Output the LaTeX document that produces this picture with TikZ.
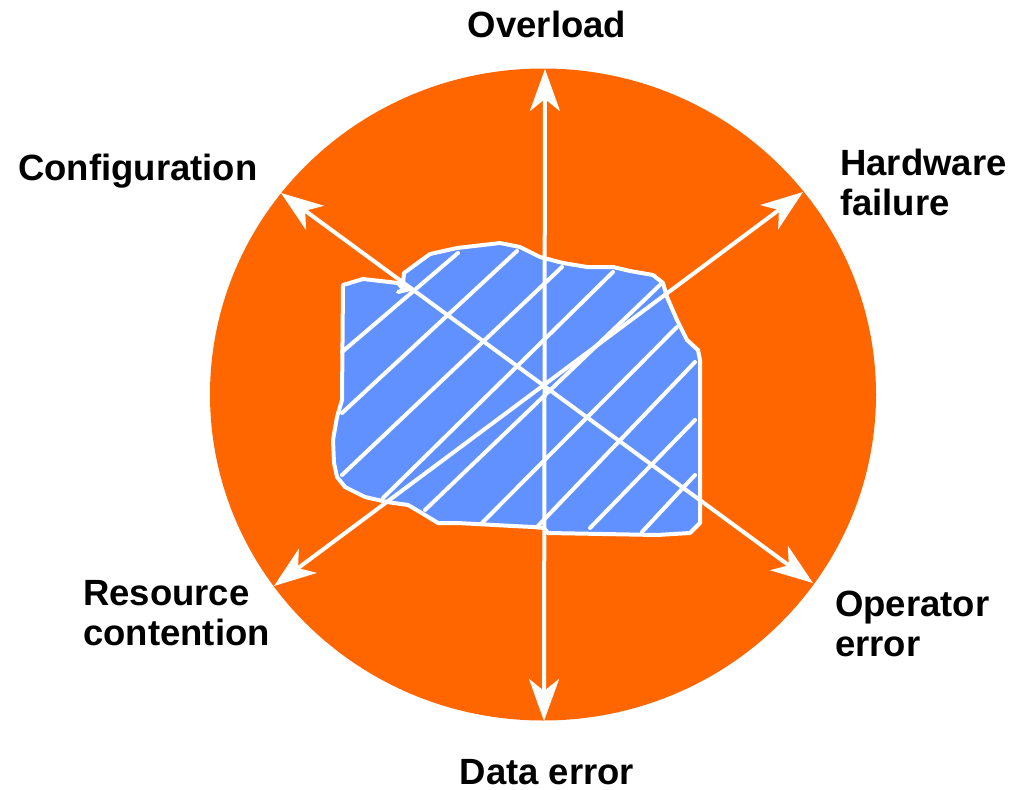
\documentclass[tikz,border=0pt]{standalone}
\usepackage{fontspec}
\setmainfont{Liberation Sans}
\usetikzlibrary{arrows.meta}
\definecolor{ringorange}{RGB}{255,102,0}
\definecolor{coreblue}{RGB}{97,145,255}
\tikzset{
  whiteline/.style={draw=white, line width=4pt, line cap=round, line join=round},
  dblarrow/.style={draw=white, line width=4pt,
    {Stealth[length=42pt,width=30pt,inset=12pt]}-{Stealth[length=42pt,width=30pt,inset=12pt]}},
  lbl/.style={font=\fontsize{36.5}{40}\selectfont\bfseries, inner sep=0pt, align=left, text=black}
}
\begin{document}
\begin{tikzpicture}[x=1pt, y=-1pt]
\useasboundingbox (0,0) rectangle (1013,790);

% outer ring
\fill[ringorange] (543,394.5) ellipse [x radius=333, y radius=326];

% irregular core
\filldraw[fill=coreblue, whiteline]
  (343,285) -- (363,279) -- (398,283) -- (404,290) -- (398,292) -- (410,289)
  -- (403,283) -- (404,273) -- (430,254) -- (457,248) -- (500,243) -- (520,247)
  -- (540,257) -- (563,263) -- (587,267) -- (613,267) -- (630,271) -- (653,275)
  -- (663,283) -- (667,297) -- (677,320) -- (687,340) -- (698,350) -- (700,360)
  -- (700,523) -- (690,533) -- (657,535) -- (548,533) -- (544,528) -- (533,527)
  -- (513,526) -- (457,523) -- (438,523) -- (420,512) -- (408,505) -- (387,502)
  -- (365,497) -- (345,487) -- (337,477) -- (334,463) -- (333,440) -- (337,417)
  -- (342,400) -- cycle;

% hatching
\draw[whiteline] (342,352) -- (458,253);
\draw[whiteline] (342,413) -- (517,251);
\draw[whiteline] (342,475) -- (562,267);
\draw[whiteline] (383,498) -- (613,272);
\draw[whiteline] (425,510) -- (662,283);
\draw[whiteline] (482,523) -- (677,327);
\draw[whiteline] (537,527) -- (695,362);
\draw[whiteline] (590,528) -- (695,420);
\draw[whiteline] (642,532) -- (695,475);

% arrow ends
\coordinate (tipN)  at (545,69);
\coordinate (tipS)  at (544,721);
\coordinate (tipNW) at (281,193);
\coordinate (tipSE) at (813,583);
\coordinate (tipNE) at (803,192);
\coordinate (tipSW) at (274,586);

\draw[dblarrow] (tipS) -- (tipN);
\draw[dblarrow] (tipSE) -- (tipNW);
\draw[dblarrow] (tipSW) -- (tipNE);

% labels
\node[lbl, anchor=north] (overload) at (547,11) {Overload};
\node[lbl, anchor=north west] (config) at (18,154) {Configuration};
\node[lbl, anchor=north west] (hardware) at (840,149) {Hardware\\failure};
\node[lbl, anchor=north west] (resource) at (83,580) {Resource\\contention};
\node[lbl, anchor=north west] (operator) at (835,591) {Operator\\error};
\node[lbl, anchor=north] (dataerr) at (547,759) {Data error};
\end{tikzpicture}
\end{document}
